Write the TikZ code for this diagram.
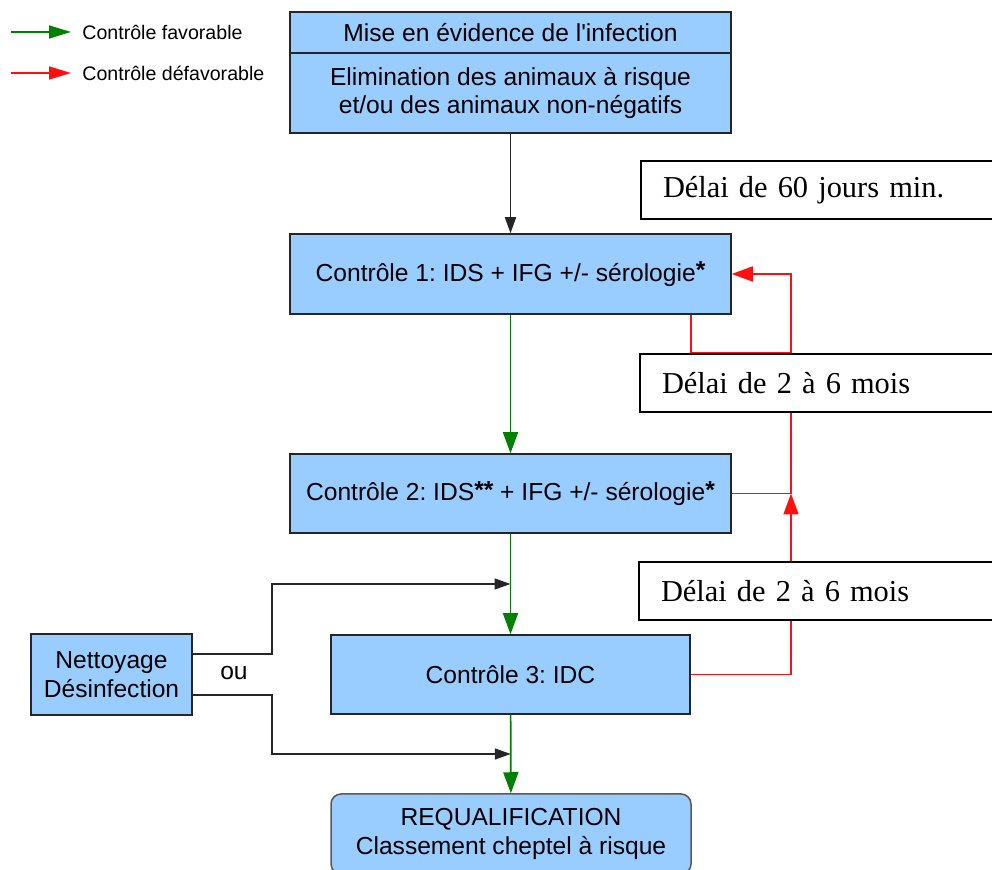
\documentclass[tikz,border=0pt]{standalone}
\usepackage{fontspec}
\setmainfont{Liberation Serif}
\setsansfont{Liberation Sans}
\usetikzlibrary{arrows.meta,calc}
\definecolor{boxblue}{HTML}{99CCFF}
\definecolor{okgreen}{HTML}{008000}
\definecolor{nogored}{HTML}{FF1010}
\newcommand{\astx}{\raisebox{0.1em}{\textbf{*}}}
\frenchspacing

\begin{document}
\begin{tikzpicture}[
  x=0.5pt, y=-0.5pt,
  box/.style={draw=black!85, fill=boxblue, line width=0.75pt, font=\sffamily\fontsize{12.3}{14.2}\selectfont, align=center, inner sep=0pt, minimum width=220.5pt},
  delai/.style={draw=black, fill=white, line width=1pt, anchor=west, font=\fontsize{15.2}{18}\selectfont, align=left, text width=158pt, inner xsep=11pt, inner ysep=0pt, minimum height=29pt},
  legend/.style={anchor=west, inner sep=0pt, font=\sffamily\fontsize{9.8}{11}\selectfont},
  ok/.style={draw=okgreen, line width=0.85pt, -{Triangle[length=10.5pt,width=7.5pt]}},
  nogo/.style={draw=nogored, line width=0.85pt},
  nogoarrow/.style={nogo, -{Triangle[length=10.5pt,width=7.5pt]}},
  plain/.style={draw=black!85, line width=0.85pt, -{Triangle[length=8pt,width=5.5pt]}}
]
  \useasboundingbox (0,0) rectangle (992,870);
  \clip (0,0) rectangle (992,870);

  % legend
  \coordinate (favstart) at (11,32);
  \node[legend] (fav) at (82,32) {Contrôle favorable};
  \draw[ok, shorten >=5.5pt, -{Triangle[length=11pt,width=6.5pt]}] (favstart) -- (fav.west);
  \coordinate (defavstart) at (11,73);
  \node[legend] (defav) at (82,73) {Contrôle défavorable};
  \draw[nogoarrow, shorten >=5.5pt, -{Triangle[length=11pt,width=6.5pt]}] (defavstart) -- (defav.west);

  % main column
  \node[box, minimum height=20.5pt] (mise) at (510.5,32.5) {Mise en évidence de l\textquotesingle infection};
  \node[box, minimum height=40pt] (elim) at (510.5,93) {Elimination des animaux à risque\\et/ou des animaux non-négatifs};
  \node[box, minimum height=40pt] (c1) at (510.5,274) {Contrôle 1: IDS + IFG +/- sérologie\astx};
  \draw[plain] (elim) -- (c1);
  \node[box, minimum height=39.5pt] (c2) at (510.5,493.5) {Contrôle 2: IDS\astx\astx{} + IFG +/- sérologie\astx};
  \draw[ok] (c1) -- (c2);
  \node[box, minimum height=39.5pt, minimum width=179.5pt] (c3) at (510.5,674.5) {Contrôle 3: IDC};
  \draw[ok] (c2) -- (c3);
  \node[box, draw=black!65, rounded corners=5pt, minimum height=40pt, minimum width=180pt] (req) at (511,834) {REQUALIFICATION\\Classement cheptel à risque};
  \draw[ok] (c3) -- (req);

  % cleaning, either before or after control 3
  \node[box, minimum height=40.5pt, minimum width=80.5pt] (nett) at (111.5,674.5) {Nettoyage\\Désinfection};
  \node[inner sep=0pt, font=\sffamily\fontsize{12.3}{14.2}\selectfont] (ou) at (234,673) {ou};
  \coordinate (joinA) at ($(c2.south)!0.5!(c3.north)$);
  \coordinate (joinB) at ($(c3.south)!0.5!(req.north)$);
  \draw[plain] ($(nett.east)+(0,-20.5)$) -- ++(79,0) |- (joinA);
  \draw[plain] ($(nett.east)+(0,20.5)$) -- ++(79,0) |- (joinB);

  % delays
  \node[delai] (d1) at (640,190) {Délai de 60 jours min.};
  \node[delai] (d2) at (639,383.5) {Délai de 2 à 6 mois};
  \node[delai] (d3) at (638,591.5) {Délai de 2 à 6 mois};

  % unfavourable controls loop back
  \coordinate (rail) at (791,0);
  \draw[nogoarrow] (c1.south -| c3.east) |- ($(rail |- d2.north)+(0,-1)$) |- (c1.east);
  \draw[nogo] (c2.east) -- (rail |- c2.east) -- (rail |- d2.south);
  \draw[nogo] (c3.east) -| (rail |- d3.south);
  \draw[nogoarrow] (rail |- d3.north) -- (rail |- c2.east);
\end{tikzpicture}
\end{document}
